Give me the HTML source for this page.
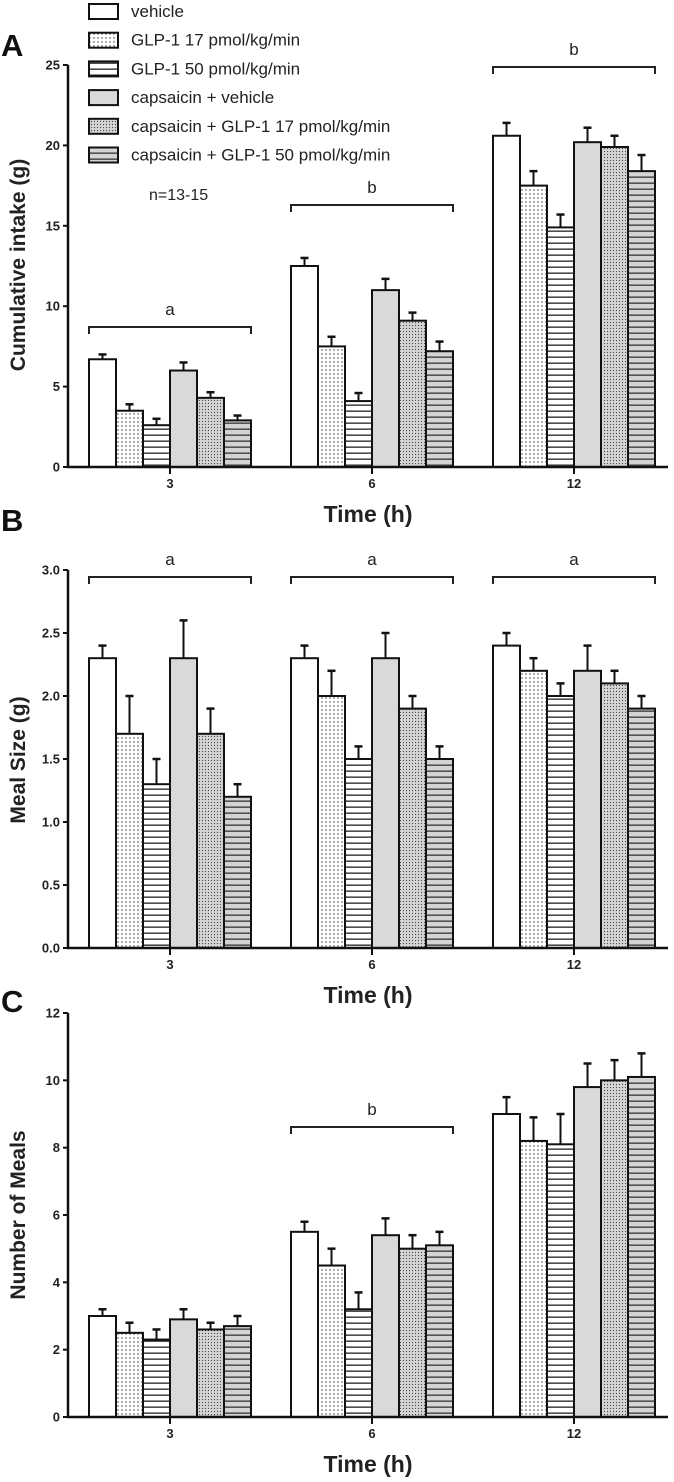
<!DOCTYPE html>
<html><head><meta charset="utf-8"><style>
body{margin:0;background:#fff;}
svg{display:block;font-family:"Liberation Sans",Arial,sans-serif;}
</style></head><body>
<svg id="fig" width="674" height="1482" viewBox="0 0 674 1482" xmlns="http://www.w3.org/2000/svg">
<defs>
<pattern id="dots" width="4" height="4" patternUnits="userSpaceOnUse"><rect width="4" height="4" fill="#fff"/><circle cx="2" cy="2" r="0.7" fill="#333"/></pattern>
<pattern id="lines" width="6" height="6" patternUnits="userSpaceOnUse"><rect width="6" height="6" fill="#fff"/><rect y="2.5" width="6" height="1.3" fill="#222"/></pattern>
<pattern id="gdots" width="3" height="3" patternUnits="userSpaceOnUse"><rect width="3" height="3" fill="#d4d4d4"/><circle cx="1.5" cy="1.5" r="0.6" fill="#444"/></pattern>
<pattern id="glines" width="6" height="6" patternUnits="userSpaceOnUse"><rect width="6" height="6" fill="#d4d4d4"/><rect y="2.5" width="6" height="1.3" fill="#333"/></pattern>
</defs>
<g id="root"></g>
</svg>
<script>
const groups = ["3","6","12"];
const seriesNames = ["vehicle","GLP-1 17 pmol/kg/min","GLP-1 50 pmol/kg/min","capsaicin + vehicle","capsaicin + GLP-1 17 pmol/kg/min","capsaicin + GLP-1 50 pmol/kg/min"];
const fills = ["#fff","url(#dots)","url(#lines)","#d9d9d9","url(#gdots)","url(#glines)"];
const intakeVals = [[6.7,3.5,2.6,6.0,4.3,2.9],[12.5,7.5,4.1,11.0,9.1,7.2],[20.6,17.5,14.9,20.2,19.9,18.4]];
const intakeErr = [[0.3,0.4,0.4,0.5,0.35,0.3],[0.5,0.6,0.5,0.7,0.5,0.6],[0.8,0.9,0.8,0.9,0.7,1.0]];
const intakeTicks = [0,5,10,15,20,25];
const mealVals = [[2.3,1.7,1.3,2.3,1.7,1.2],[2.3,2.0,1.5,2.3,1.9,1.5],[2.4,2.2,2.0,2.2,2.1,1.9]];
const mealErr = [[0.1,0.3,0.2,0.3,0.2,0.1],[0.1,0.2,0.1,0.2,0.1,0.1],[0.1,0.1,0.1,0.2,0.1,0.1]];
const mealTicks = ["0.0","0.5","1.0","1.5","2.0","2.5","3.0"];
const numVals = [[3.0,2.5,2.3,2.9,2.6,2.7],[5.5,4.5,3.2,5.4,5.0,5.1],[9.0,8.2,8.1,9.8,10.0,10.1]];
const numErr = [[0.2,0.3,0.3,0.3,0.2,0.3],[0.3,0.5,0.5,0.5,0.4,0.4],[0.5,0.7,0.9,0.7,0.6,0.7]];
const numTicks = [0,2,4,6,8,10,12];

const NS="http://www.w3.org/2000/svg";
const root=document.getElementById('root');
function mk(tag,attrs,parent,text){const e=document.createElementNS(NS,tag);for(const k in attrs)e.setAttribute(k,attrs[k]);if(text!==undefined)e.textContent=text;(parent||root).appendChild(e);return e;}

const BW=27, X0=68, X1=668, G0=89, GS=202;
function panel(p){
  const g=mk('g',{});
  
  
  const y=v=>p.y0-(v/p.max)*(p.y0-p.yTop);
  p.vals.forEach((row,gi)=>{row.forEach((v,si)=>{
    const x=G0+gi*GS+si*BW;
    const top=y(v), et=y(v+p.err[gi][si]);
    const l=mk('line',{x1:x+BW/2,x2:x+BW/2,y1:top,y2:et,stroke:'#111','stroke-width':2},g);
    
    
    mk('line',{x1:x+BW/2-4,x2:x+BW/2+4,y1:et,y2:et,stroke:'#111','stroke-width':2.5},g);
    const r=mk('rect',{x:x,y:top,width:BW,height:p.y0-top,fill:fills[si],stroke:'#111','stroke-width':2},g);
    
    
  });});
  const ax=mk('path',{d:`M${X0},${p.yTop}V${p.y0}H${X1}`,fill:'none',stroke:'#111','stroke-width':2.5},g);
  
  
  p.ticks.forEach(t=>{const yy=y(parseFloat(t));
    mk('line',{x1:X0-5,x2:X0,y1:yy,y2:yy,stroke:'#111','stroke-width':2},g);
    const tl=mk('text',{x:X0-8,y:yy+4.5,'text-anchor':'end','font-size':13,'font-weight':'bold',fill:'#222'},g,String(t));
    
    
  });
  groups.forEach((gname,gi)=>{const cx=G0+gi*GS+3*BW;
    mk('line',{x1:cx,x2:cx,y1:p.y0,y2:p.y0+7,stroke:'#111','stroke-width':2},g);
    const tl=mk('text',{x:cx,y:p.y0+21,'text-anchor':'middle','font-size':13,'font-weight':'bold',fill:'#222'},g,gname);
    
    
  });
  const xt=mk('text',{x:368,y:p.y0+55,'text-anchor':'middle','font-size':23,'font-weight':'bold',fill:'#222'},g,'Time (h)');
  
  
  const yt=mk('text',{x:0,y:0,'text-anchor':'middle','font-size':21,'font-weight':'bold',fill:'#222',transform:`translate(25,${p.ytc}) rotate(-90)`},g,p.ytitle);
  
  
  const L=mk('text',{x:1,y:p.letterY,'font-size':31,'font-weight':'bold',fill:'#111'},g,p.letter);
  
  
  p.brackets.forEach(b=>{const x1=G0+b.g*GS, x2=x1+6*BW;
    const br=mk('path',{d:`M${x1},${b.y+7}V${b.y}H${x2}V${b.y+7}`,fill:'none',stroke:'#222','stroke-width':2},g);
    
    
    const bl=mk('text',{x:(x1+x2)/2,y:b.y-12,'text-anchor':'middle','font-size':17,fill:'#222'},g,b.t);
    
    
  });
}
panel({name:'panel-a-cumulative-intake',vals:intakeVals,err:intakeErr,ticks:intakeTicks,max:25,yTop:65,y0:467,ytitle:'Cumulative intake (g)',ytc:265,letter:'A',letterY:56,
  brackets:[{g:0,y:327,t:'a'},{g:1,y:205,t:'b'},{g:2,y:67,t:'b'}]});
panel({name:'panel-b-meal-size',vals:mealVals,err:mealErr,ticks:mealTicks,max:3,yTop:570,y0:948,ytitle:'Meal Size (g)',ytc:760,letter:'B',letterY:531,
  brackets:[{g:0,y:577,t:'a'},{g:1,y:577,t:'a'},{g:2,y:577,t:'a'}]});
panel({name:'panel-c-number-of-meals',vals:numVals,err:numErr,ticks:numTicks,max:12,yTop:1013,y0:1417,ytitle:'Number of Meals',ytc:1215,letter:'C',letterY:1012,
  brackets:[{g:1,y:1127,t:'b'}]});
const lg=mk('g',{});


seriesNames.forEach((n,i)=>{const cy=11+i*28.7;
  const r=mk('rect',{x:89,y:cy-7,width:29,height:15,fill:fills[i],stroke:'#111','stroke-width':2},lg);
  
  
  const t=mk('text',{x:131,y:cy+6,'font-size':17,fill:'#222'},lg,n);
  
  
});
const nt=mk('text',{x:149,y:200,'font-size':16,fill:'#222'},root,'n=13-15');


</script>
</body></html>
